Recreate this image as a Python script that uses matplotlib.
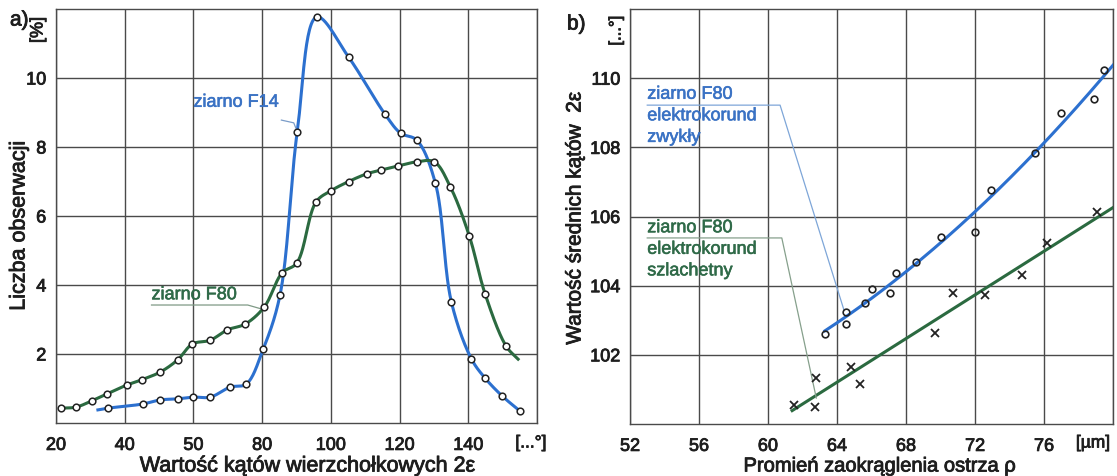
import numpy as np
import matplotlib
matplotlib.use("Agg")
import matplotlib.pyplot as plt
import matplotlib.patheffects as pe

plt.rcParams['font.family'] = ['Liberation Sans', 'DejaVu Sans']

# a) distribution of tip angles
f14_x = [35.1, 45.2, 50.4, 55.4, 60.0, 64.9, 70.7, 75.4, 80.3, 85.2, 90.2, 95.9,
         105.2, 115.7, 120.3, 125.0, 130.4, 135.1, 140.9, 144.9, 149.9, 155.0]
f14_y = [0.43, 0.55, 0.67, 0.70, 0.75, 0.75, 1.04, 1.13, 2.14, 3.71, 8.43, 11.77,
         10.6, 8.96, 8.40, 8.20, 6.96, 3.50, 1.86, 1.30, 0.78, 0.35]
f14_start = (32.2, 0.38)

f80_x = [21.4, 25.8, 30.4, 34.8, 40.6, 44.9, 50.4, 55.4, 59.7, 64.9, 69.9, 75.1,
         80.6, 85.8, 90.1, 95.7, 100.0, 105.2, 110.4, 114.5, 119.4, 125.0, 130.1,
         134.8, 140.3, 144.9, 151.0]
f80_y = [0.43, 0.46, 0.64, 0.84, 1.10, 1.25, 1.48, 1.83, 2.29, 2.40, 2.70, 2.87,
         3.36, 4.35, 4.64, 6.41, 6.73, 7.00, 7.22, 7.33, 7.45, 7.57, 7.57,
         6.84, 5.42, 3.74, 2.23]
f80_end = (154.5, 1.85)

a_xticks = [20, 40, 60, 80, 100, 120, 140, 160]
a_xlabels = ['20', '40', '50', '80', '100', '120', '140', '']
a_yticks = [2, 4, 6, 8, 10]

# b) mean angle vs. edge radius
zw_x = [63.3, 64.5, 64.5, 65.6, 66.0, 67.1, 67.4, 68.6, 70.0, 72.0, 72.9, 75.5,
        77.0, 78.9, 79.5]
zw_y = [102.6, 103.24, 102.9, 103.5, 103.9, 103.8, 104.36, 104.68, 105.4, 105.55,
        106.76, 107.83, 109.0, 109.4, 110.23]
sz_x = [61.5, 62.7, 62.8, 64.8, 65.35, 69.7, 70.7, 72.6, 74.7, 76.2, 79.05]
sz_y = [100.55, 100.49, 101.33, 101.65, 101.15, 102.64, 103.79, 103.73, 104.3,
        105.23, 106.13]

b_xticks = [52, 56, 60, 64, 68, 72, 76, 80]
b_xlabels = ['52', '56', '60', '64', '68', '72', '76', '']
b_yticks = [102, 104, 106, 108, 110]

BLUE = '#2c70cf'
GREEN = '#2b6a40'
BLUE_T = '#3a72c4'
GREEN_T = '#2f6a48'
GRID = '#4a4a4a'
INK = '#1e1e1e'

W, H = 1117, 476


def heavy(color=INK, w=0.6):
    # printed text is a bit heavier than the plain regular face
    return [pe.withStroke(linewidth=w, foreground=color)]


def fig_text(px, py, s, **kw):
    color = kw.pop('color', INK)
    return fig.text(px / W, 1 - py / H, s, color=color, path_effects=heavy(color), **kw)


def catmull_rom(xs, ys, sx, sy, n=30):
    # centripetal Catmull-Rom through the points, scaled so both axes count equally
    P = np.column_stack([np.asarray(xs) / sx, np.asarray(ys) / sy])
    P = np.vstack([2 * P[0] - P[1], P, 2 * P[-1] - P[-2]])
    out = []
    for i in range(1, len(P) - 2):
        p0, p1, p2, p3 = P[i - 1:i + 3]
        t0 = 0.0
        t1 = t0 + np.linalg.norm(p1 - p0) ** 0.5 + 1e-9
        t2 = t1 + np.linalg.norm(p2 - p1) ** 0.5 + 1e-9
        t3 = t2 + np.linalg.norm(p3 - p2) ** 0.5 + 1e-9
        t = np.linspace(t1, t2, n)[:, None]
        a1 = (t1 - t) / (t1 - t0) * p0 + (t - t0) / (t1 - t0) * p1
        a2 = (t2 - t) / (t2 - t1) * p1 + (t - t1) / (t2 - t1) * p2
        a3 = (t3 - t) / (t3 - t2) * p2 + (t - t2) / (t3 - t2) * p3
        b1 = (t2 - t) / (t2 - t0) * a1 + (t - t0) / (t2 - t0) * a2
        b2 = (t3 - t) / (t3 - t1) * a2 + (t - t1) / (t3 - t1) * a3
        c = (t2 - t) / (t2 - t1) * b1 + (t - t1) / (t2 - t1) * b2
        out.append(c if i == 1 else c[1:])
    c = np.vstack(out)
    return c[:, 0] * sx, c[:, 1] * sy


def style_axes(ax):
    ax.grid(True, color=GRID, lw=1.0)
    ax.set_axisbelow(True)
    for s in ax.spines.values():
        s.set_color(GRID)
        s.set_linewidth(1.0)
    ax.tick_params(length=0, labelsize=13, pad=10, labelcolor=INK)
    for lab in ax.get_xticklabels() + ax.get_yticklabels():
        lab.set_path_effects(heavy())


fig = plt.figure(figsize=(W / 100, H / 100), dpi=100)

# ---- panel a
ax1 = fig.add_axes([56 / W, 1 - 423 / H, 481 / W, 414 / H])
ax1.set_xlim(20, 160)
ax1.set_ylim(0, 12)
ax1.set_xticks(a_xticks)
ax1.set_xticklabels(a_xlabels)
ax1.set_yticks(a_yticks)
style_axes(ax1)
ax1.tick_params(axis='y', pad=7)

cx, cy = catmull_rom([f14_start[0]] + f14_x, [f14_start[1]] + f14_y, 20, 2)
ax1.plot(cx, cy, color=BLUE, lw=2.2, zorder=3)
cx, cy = catmull_rom(f80_x + [f80_end[0]], f80_y + [f80_end[1]], 20, 2)
ax1.plot(cx, cy, color=GREEN, lw=2.2, zorder=3)
ax1.plot(f14_x, f14_y, 'o', ms=4.8, mfc='white', mec='#222222', mew=1.1, zorder=4)
ax1.plot(f80_x, f80_y, 'o', ms=4.8, mfc='white', mec='#222222', mew=1.1, zorder=4)

ax1.text(60.0, 9.05, 'ziarno F14', color=BLUE_T, fontsize=13, va='bottom',
         ha='left', zorder=5, path_effects=heavy(BLUE_T, 0.4))
ax1.plot([85.6, 89.2, 90.0], [8.78, 8.70, 8.50], color='#7a9cc8', lw=0.9, zorder=3)
ax1.text(47.8, 3.47, 'ziarno F80', color=GREEN_T, fontsize=13, va='bottom',
         ha='left', zorder=5, path_effects=heavy(GREEN_T, 0.4))
ax1.plot([47.8, 75.8, 80.0], [3.42, 3.42, 3.30], color='#7f9a86', lw=0.9, zorder=3)

fig_text(19, 226, 'Liczba obserwacji', fontsize=15.5, rotation=90,
         ha='center', va='center')
fig_text(307, 466, 'Wartość kątów wierzchołkowych 2ε', fontsize=15.5,
         ha='center', va='center')
fig_text(10, 20, 'a)', fontsize=15, va='center', ha='left')
fig_text(38, 30, '[%]', fontsize=13, rotation=90, va='center', ha='center')
fig_text(531, 443, '[...°]', fontsize=12.5, va='center', ha='center')

# ---- panel b
ax2 = fig.add_axes([630 / W, 1 - 424 / H, 483 / W, 415 / H])
ax2.set_xlim(52, 80)
ax2.set_ylim(100, 112)
ax2.set_xticks(b_xticks)
ax2.set_xticklabels(b_xlabels)
ax2.set_yticks(b_yticks)
style_axes(ax2)
ax2.tick_params(axis='y', pad=7)

k = np.polyfit(zw_x, zw_y, 2)
xx = np.linspace(min(zw_x), 80, 200)
ax2.plot(xx, np.polyval(k, xx), color=BLUE, lw=2.2, zorder=3)
k = np.polyfit(sz_x, sz_y, 1)
xx = np.linspace(min(sz_x) - 0.1, 80, 200)
ax2.plot(xx, np.polyval(k, xx), color=GREEN, lw=2.2, zorder=3)
ax2.plot(zw_x, zw_y, 'o', ms=4.8, mfc='none', mec='#222222', mew=1.2, zorder=4)
ax2.plot(sz_x, sz_y, 'x', ms=5.5, color='#222222', mew=1.3, zorder=4)

ax2.text(53.0, 109.78, 'ziarno F80\nelektrokorund\nzwykły', color=BLUE_T,
         fontsize=13, va='top', ha='left', linespacing=1.35, zorder=5,
         path_effects=heavy(BLUE_T, 0.4))
ax2.plot([53.0, 60.7, 64.4], [109.22, 109.22, 103.3], color='#7ea6d8', lw=0.9, zorder=3)
ax2.text(53.0, 105.92, 'ziarno F80\nelektrokorund\nszlachetny', color=GREEN_T,
         fontsize=13, va='top', ha='left', linespacing=1.35, zorder=5,
         path_effects=heavy(GREEN_T, 0.4))
ax2.plot([53.0, 60.8, 62.8], [105.38, 105.38, 100.75], color='#86a08c', lw=0.9, zorder=3)

fig_text(575, 218, 'Wartość średnich kątów  2ε', fontsize=15, rotation=90,
         ha='center', va='center')
fig_text(880, 466, 'Promień zaokrąglenia ostrza ρ', fontsize=14.5,
         ha='center', va='center')
fig_text(567, 24, 'b)', fontsize=15, va='center', ha='left')
fig_text(616, 31, '[...°]', fontsize=12, rotation=90, va='center', ha='center')
fig_text(1093, 443, '[µm]', fontsize=12.5, va='center', ha='center')

fig.savefig('out.png', dpi=100)
